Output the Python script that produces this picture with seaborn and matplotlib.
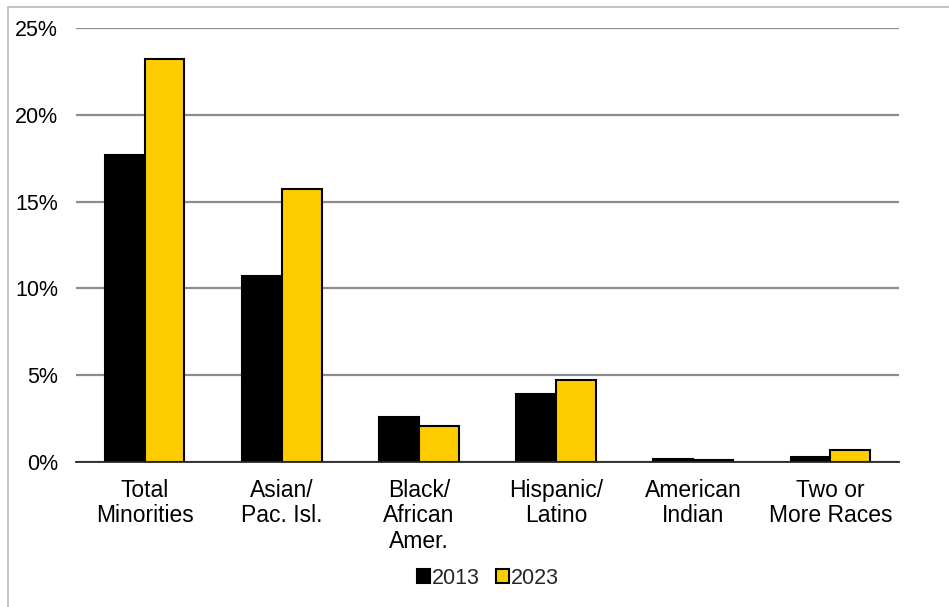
import matplotlib
matplotlib.use("Agg")
import matplotlib.pyplot as plt
from matplotlib.lines import Line2D
from matplotlib.patches import Patch
import seaborn as sns
import pandas as pd

# Share of minority groups, by year (percent)
categories = ["Total\nMinorities", "Asian/\nPac. Isl.", "Black/\nAfrican\nAmer.",
              "Hispanic/\nLatino", "American\nIndian", "Two or\nMore Races"]
years = ["2013", "2023"]
values_2013 = [17.7, 10.7, 2.6, 3.9, 0.2, 0.3]
values_2023 = [23.2, 15.7, 2.1, 4.7, 0.1, 0.7]
y_ticks = [0, 5, 10, 15, 20, 25]

colors = ["#000000", "#FFCC00"]

df = pd.DataFrame({
    "category": categories * 2,
    "year": [years[0]] * len(categories) + [years[1]] * len(categories),
    "value": values_2013 + values_2023,
})

sns.set_theme(style="white")
plt.rcParams["font.family"] = ["Liberation Sans", "DejaVu Sans"]

W, H = 949, 607
fig = plt.figure(figsize=(W / 100, H / 100), dpi=100)
ax = fig.add_axes([76 / W, (H - 462) / H, (899 - 76) / W, (462 - 28) / H])

sns.barplot(data=df, x="category", y="value", hue="year", palette=colors,
            saturation=1, width=0.58, gap=0, edgecolor="black", linewidth=1.5,
            legend=False, ax=ax, zorder=3)

ax.set_ylim(0, 25)
ax.set_yticks(y_ticks)
ax.set_yticklabels([f"{t}%" for t in y_ticks])
ax.yaxis.grid(True, color="#8C8C8C", linewidth=1.6, zorder=0)
ax.set_axisbelow(True)
for side in ["left", "right", "top"]:
    ax.spines[side].set_visible(False)
ax.spines["bottom"].set_color("#262626")
ax.spines["bottom"].set_linewidth(1.3)
ax.spines["bottom"].set_zorder(4)
ax.set_xlabel("")
ax.set_ylabel("")
ax.tick_params(axis="y", length=0, pad=13, labelsize=15.5, labelcolor="black")
ax.tick_params(axis="x", length=0, pad=12, labelsize=16.5, labelcolor="black")
for lbl in ax.get_xticklabels():
    lbl.set_linespacing(1.15)

handles = [Patch(facecolor=c, edgecolor="black", linewidth=1.5) for c in colors]
fig.legend(handles, years, loc="center", bbox_to_anchor=(488 / W, 1 - 578 / H),
           ncol=2, frameon=False, fontsize=15.5, handlelength=0.6, handleheight=0.6,
           handletextpad=0.1, columnspacing=0.75, borderaxespad=0)

# Outer chart-area border (left and top edges)
fig.add_artist(Line2D([8 / W, 8 / W], [0, 1 - 7 / H], transform=fig.transFigure,
                      color="#BFBFBF", linewidth=1.3))
fig.add_artist(Line2D([8 / W, 1], [1 - 7 / H, 1 - 7 / H], transform=fig.transFigure,
                      color="#BFBFBF", linewidth=1.3))

fig.savefig("out.png", dpi=100)
